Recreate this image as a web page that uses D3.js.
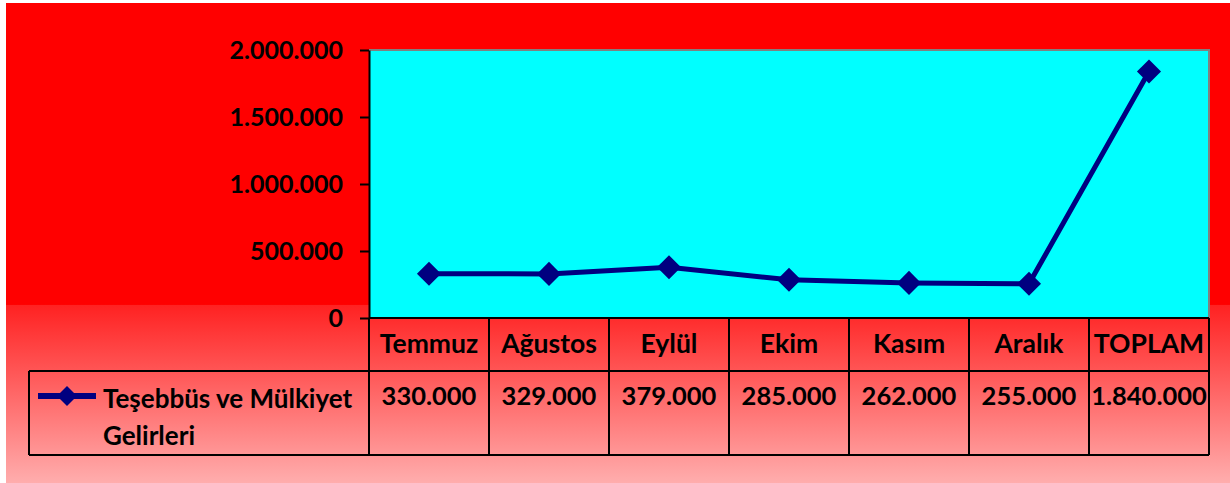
<!DOCTYPE html>
<html>
<head>
<meta charset="utf-8">
<script src="https://cdn.jsdelivr.net/npm/d3@7"></script>
<style>
  html, body { margin: 0; padding: 0; background: #fff; }
  svg { display: block; font-family: Lato, "Open Sans", sans-serif; font-weight: bold; }
</style>
</head>
<body>
<svg id="chart"></svg>
<script>
// data
const months = ['Temmuz', 'Ağustos', 'Eylül', 'Ekim', 'Kasım', 'Aralık', 'TOPLAM'];
const gelirler = [330000, 329000, 379000, 285000, 262000, 255000, 1840000];
const yTicks = [0, 500000, 1000000, 1500000, 2000000];
const seriesName = ['Teşebbüs ve Mülkiyet', 'Gelirleri'];

const width = 1230, height = 483;
const plot = { left: 369, right: 1209, top: 50, bottom: 318 };
const headerBottom = 371, tableBottom = 455, legendLeft = 29;
const navy = '#000080';

const trFormat = d3.formatLocale({ decimal: ',', thousands: '.', grouping: [3], currency: ['', ''] }).format(',d');

const svg = d3.select('#chart').attr('width', width).attr('height', height);

// background: red on top, fading to pink below
const defs = svg.append('defs');
const grad = defs.append('linearGradient').attr('id', 'bg')
    .attr('x1', 0).attr('y1', 0).attr('x2', 0).attr('y2', 1);
grad.append('stop').attr('offset', 0).attr('stop-color', '#ff0000');
grad.append('stop').attr('offset', 0.628).attr('stop-color', '#ff0000');
grad.append('stop').attr('offset', 0.63).attr('stop-color', '#ff2222');
grad.append('stop').attr('offset', 1).attr('stop-color', '#ffadad');

svg.append('rect').attr('x', 6).attr('y', 3)
    .attr('width', width - 6).attr('height', height - 3)
    .attr('fill', 'url(#bg)');

const x = d3.scaleBand().domain(months).range([plot.left, plot.right]).padding(0);
const y = d3.scaleLinear().domain([0, 2000000]).range([plot.bottom, plot.top]);

// plot area
svg.append('rect')
    .attr('x', plot.left).attr('y', plot.top)
    .attr('width', plot.right - plot.left).attr('height', plot.bottom - plot.top)
    .attr('fill', '#00ffff');
svg.append('path')
    .attr('d', `M${plot.left},${plot.top}H${plot.right}V${plot.bottom}`)
    .attr('fill', 'none').attr('stroke', '#808080').attr('stroke-width', 2);

// y axis
const yAxis = d3.axisLeft(y).tickValues(yTicks).tickFormat(trFormat)
    .tickSize(9).tickPadding(17).tickSizeOuter(0);
const gy = svg.append('g').attr('transform', `translate(${plot.left},0)`).call(yAxis);
gy.select('.domain').attr('stroke', '#000').attr('stroke-width', 2);
gy.selectAll('.tick line').attr('stroke', '#000').attr('stroke-width', 2);
gy.selectAll('.tick text')
    .attr('fill', '#000').attr('font-size', 25).attr('font-weight', 'bold')
    .attr('font-family', 'Lato, "Open Sans", sans-serif');

// data table
const grid = svg.append('g').attr('stroke', '#000').attr('stroke-width', 2).attr('fill', 'none');
grid.append('line').attr('x1', plot.left).attr('x2', plot.right).attr('y1', plot.bottom).attr('y2', plot.bottom);
grid.append('line').attr('x1', legendLeft).attr('x2', plot.right).attr('y1', headerBottom).attr('y2', headerBottom);
grid.append('line').attr('x1', legendLeft).attr('x2', plot.right).attr('y1', tableBottom).attr('y2', tableBottom);
grid.append('line').attr('x1', legendLeft).attr('x2', legendLeft).attr('y1', headerBottom).attr('y2', tableBottom);
grid.selectAll('line.col')
    .data(months.map(m => x(m)).concat([plot.right]))
    .join('line').attr('class', 'col')
    .attr('x1', d => d).attr('x2', d => d)
    .attr('y1', plot.bottom).attr('y2', tableBottom);

svg.append('g').selectAll('text')
    .data(months).join('text')
    .attr('x', d => x(d) + x.bandwidth() / 2)
    .attr('y', 353)
    .attr('text-anchor', 'middle')
    .attr('font-size', 26.5)
    .text(d => d);

svg.append('g').selectAll('text')
    .data(gelirler).join('text')
    .attr('x', (d, i) => x(months[i]) + x.bandwidth() / 2)
    .attr('y', 405)
    .attr('text-anchor', 'middle')
    .attr('font-size', 25.5)
    .text(d => trFormat(d));

// legend key
const legend = svg.append('g');
legend.append('line').attr('x1', 38).attr('x2', 96).attr('y1', 396).attr('y2', 396)
    .attr('stroke', navy).attr('stroke-width', 6);
legend.append('path')
    .attr('d', d3.symbol(d3.symbolSquare, 200)())
    .attr('transform', 'translate(67,396) rotate(45)')
    .attr('fill', navy);
legend.selectAll('text').data(seriesName).join('text')
    .attr('x', 103).attr('y', (d, i) => 408 + i * 37)
    .attr('font-size', 26)
    .text(d => d);

// series line and markers
const line = d3.line()
    .x((d, i) => x(months[i]) + x.bandwidth() / 2)
    .y(d => y(d));

svg.append('path').datum(gelirler)
    .attr('d', line)
    .attr('fill', 'none').attr('stroke', navy).attr('stroke-width', 5)
    .attr('stroke-linejoin', 'round');

svg.append('g').selectAll('path')
    .data(gelirler).join('path')
    .attr('d', d3.symbol(d3.symbolSquare, 290)())
    .attr('transform', (d, i) => `translate(${x(months[i]) + x.bandwidth() / 2},${y(d)}) rotate(45)`)
    .attr('fill', navy);
</script>
</body>
</html>
